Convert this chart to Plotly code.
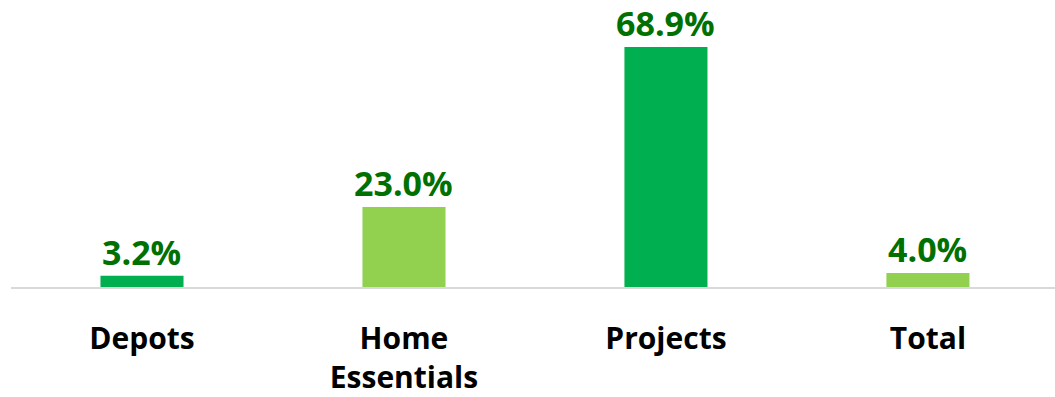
import plotly.graph_objects as go

# Growth by segment
categories = ["Depots", "Home<br>Essentials", "Projects", "Total"]
values = [3.2, 23.0, 68.9, 4.0]
bar_colors = ["#00B050", "#92D050", "#00B050", "#92D050"]
value_labels = [f"{v:.1f}%" for v in values]

FONT = "Open Sans"

fig = go.Figure(
    go.Bar(
        x=categories,
        y=values,
        marker=dict(color=bar_colors, line=dict(width=0)),
        cliponaxis=False,
        hoverinfo="skip",
    )
)

# value labels sitting just above each bar
for cat, val, lab in zip(categories, values, value_labels):
    fig.add_annotation(
        x=cat,
        y=val,
        text=f"<b>{lab}</b>",
        showarrow=False,
        xanchor="center",
        yanchor="bottom",
        yshift=-1,
        font=dict(family=FONT, size=34, color="#007000"),
    )

fig.update_layout(
    width=1055,
    height=397,
    margin=dict(l=11, r=0, t=0, b=110),
    paper_bgcolor="white",
    plot_bgcolor="white",
    bargap=0.683,
    showlegend=False,
    font=dict(family=FONT),
)

fig.update_xaxes(
    range=[-0.5, 3.485],
    showline=True,
    linecolor="#D9D9D9",
    linewidth=2,
    showgrid=False,
    ticks="",
    ticklabelstandoff=24,
    tickfont=dict(family=FONT, size=30, color="black", weight="bold"),
)
fig.update_yaxes(
    range=[0, 82.4],
    visible=False,
    showgrid=False,
    zeroline=False,
)

fig.write_html("out.html")
